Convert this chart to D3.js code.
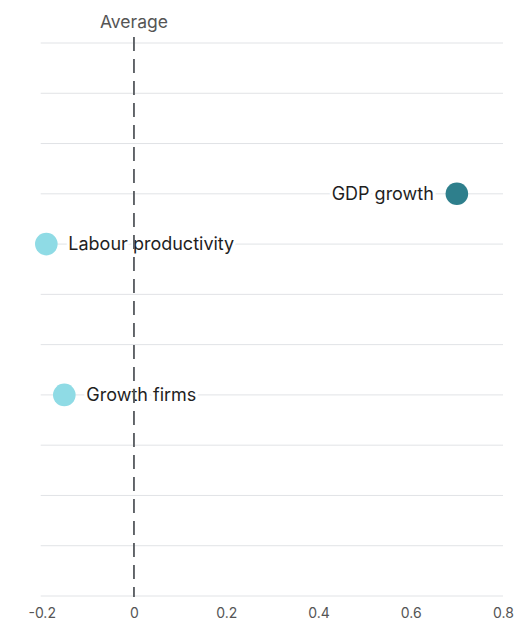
<!DOCTYPE html>
<html>
<head>
<meta charset="utf-8">
<script src="https://cdn.jsdelivr.net/npm/d3@7"></script>
<style>
  html, body { margin: 0; padding: 0; background: #fff; }
  svg { display: block; font-family: Inter, "Noto Sans", sans-serif; }
</style>
</head>
<body>
<svg id="chart" width="515" height="622"></svg>
<script>
// Data
const rowSlots = ["r1", "r2", "r3", "GDP growth", "Labour productivity", "r6", "r7", "Growth firms", "r9", "r10", "r11", "r12"];
const indicators = ["GDP growth", "Labour productivity", "Growth firms"];
const values = [0.70, -0.19, -0.151];
const highlight = [true, false, false];
const xTicks = [-0.2, 0, 0.2, 0.4, 0.6, 0.8];
const xTickLabels = ["-0.2", "0", "0.2", "0.4", "0.6", "0.8"];
const refLabel = "Average";
const refValue = 0;

const svg = d3.select("#chart");
const x = d3.scaleLinear().domain([-0.2, 0.8]).range([41.7, 503]);
const y = d3.scalePoint().domain(rowSlots).range([43, 596]);

// gridlines
svg.append("g").selectAll("line").data(rowSlots).join("line")
  .attr("x1", x(-0.2) - 1).attr("x2", x(0.8))
  .attr("y1", d => y(d)).attr("y2", d => y(d))
  .attr("stroke", "#e1e3e6").attr("stroke-width", 1);

// x axis labels
const xAxis = d3.axisBottom(x).tickValues(xTicks).tickSize(0).tickPadding(0)
  .tickFormat((d, i) => xTickLabels[i]);
const gx = svg.append("g").call(xAxis);
gx.select(".domain").remove();
gx.selectAll("text").attr("y", 617.5).attr("dy", null)
  .attr("font-size", 14).attr("fill", "#555").attr("font-family", "Inter, 'Noto Sans', sans-serif");

const data = indicators.map((d, i) => ({ name: d, value: values[i], hi: highlight[i] }));

// labels with white halo
svg.append("g").selectAll("text").data(data).join("text")
  .attr("x", d => d.value > 0 ? x(d.value) - 23 : x(d.value) + 22)
  .attr("y", d => y(d.name))
  .attr("dy", "0.35em")
  .attr("text-anchor", d => d.value > 0 ? "end" : "start")
  .attr("font-size", 18)
  .attr("fill", "#1f1f1f")
  .attr("stroke", "#fff").attr("stroke-width", 6).attr("paint-order", "stroke")
  .attr("stroke-linejoin", "round")
  .text(d => d.name);

// reference line
svg.append("line")
  .attr("x1", x(refValue)).attr("x2", x(refValue))
  .attr("y1", 37).attr("y2", 597)
  .attr("stroke", "#55595e").attr("stroke-width", 1.8)
  .attr("stroke-dasharray", "14,8");

svg.append("text")
  .attr("x", x(refValue)).attr("y", 28)
  .attr("text-anchor", "middle")
  .attr("font-size", 17.5).attr("fill", "#555")
  .text(refLabel);

// dots
svg.append("g").selectAll("circle").data(data).join("circle")
  .attr("cx", d => x(d.value)).attr("cy", d => y(d.name))
  .attr("r", 11.3)
  .attr("fill", d => d.hi ? "#2e7f8c" : "#8fdbe5");
</script>
</body>
</html>
